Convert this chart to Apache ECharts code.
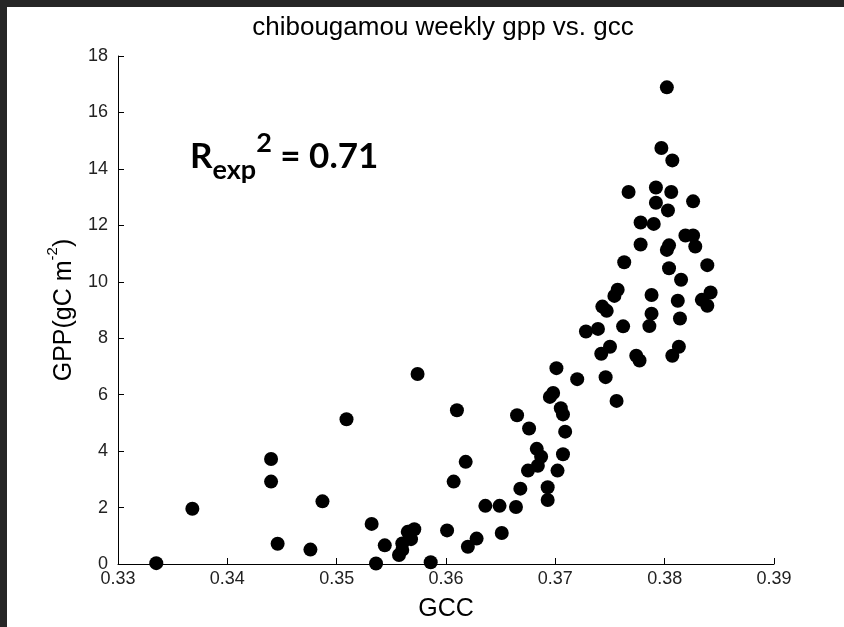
<!DOCTYPE html>
<html>
<head>
<meta charset="utf-8">
<script src="https://cdn.jsdelivr.net/npm/echarts@6/dist/echarts.min.js"></script>
<style>
html,body{margin:0;padding:0;background:#fff;}
#chart{width:844px;height:627px;}
</style>
</head>
<body>
<div id="chart"></div>
<script>
var titleText = 'chibougamou weekly gpp vs. gcc';
var xName = 'GCC';
var xTicks = [0.33, 0.34, 0.35, 0.36, 0.37, 0.38, 0.39];
var yTicks = [0, 2, 4, 6, 8, 10, 12, 14, 16, 18];
var gcc = [
0.3335,0.3368,0.3440,0.3440,0.3446,0.3476,0.3487,0.3509,0.3532,0.3536,
0.3544,0.3557,0.3560,0.3560,0.3565,0.3568,0.3571,0.3574,0.3586,0.3601,
0.3607,0.3610,0.3618,0.3620,0.3628,0.3636,0.3649,0.3651,0.3664,0.3665,
0.3668,0.3675,0.3676,0.3683,0.3684,0.3687,0.3693,0.3693,0.3695,0.3698,
0.3701,0.3702,0.3705,0.3707,0.3707,0.3709,0.3720,0.3728,0.3739,0.3742,
0.3743,0.3746,0.3747,0.3750,0.3754,0.3756,0.3757,0.3762,0.3763,0.3767,
0.3774,0.3777,0.3778,0.3778,0.3786,0.3788,0.3788,0.3790,0.3792,0.3792,
0.3797,0.3802,0.3802,0.3803,0.3804,0.3804,0.3806,0.3807,0.3807,0.3812,
0.3813,0.3814,0.3815,0.3819,0.3826,0.3826,0.3828,0.3834,0.3839,0.3839,
0.3842
];
var gpp = [
0.03,1.96,3.72,2.92,0.72,0.51,2.22,5.13,1.42,0.02,
0.66,0.32,0.50,0.73,1.14,0.88,1.23,6.73,0.06,1.19,
2.92,5.45,3.62,0.61,0.90,2.06,2.06,1.10,2.02,5.27,
2.67,3.31,4.80,4.08,3.48,3.80,2.72,2.27,5.92,6.06,
6.94,3.31,5.52,5.30,3.89,4.69,6.55,8.24,8.33,7.45,
9.12,6.62,8.97,7.70,9.50,5.78,9.72,8.42,10.69,13.18,
7.38,7.21,12.10,11.32,8.43,8.87,9.53,12.05,13.34,12.80,
14.74,16.89,11.13,12.53,11.29,10.48,13.18,14.30,7.38,9.33,
7.70,8.70,10.07,11.64,11.64,12.85,11.25,9.36,10.59,9.15,
9.62
];
var data = gcc.map(function(g, i){ return [g, gpp[i]]; });

var chart = echarts.init(document.getElementById('chart'), null, {renderer:'canvas'});
var lab = {fontFamily:'Liberation Sans', fontSize:18, color:'#222'};
chart.setOption({
  backgroundColor:'#ffffff',
  animation:false,
  grid:{left:118, right:70, top:56, bottom:63, containLabel:false},
  xAxis:{
    type:'value', min:0.33, max:0.39, interval:0.01,
    axisLine:{show:true, lineStyle:{color:'#000', width:1}},
    axisTick:{show:true, inside:true, length:6, lineStyle:{color:'#000'}},
    axisLabel:Object.assign({margin:6, formatter:function(v){return v.toFixed(2);}}, lab),
    splitLine:{show:false},
    name:xName, nameLocation:'middle', nameGap:33,
    nameTextStyle:{fontFamily:'Liberation Sans', fontSize:25, color:'#000'}
  },
  yAxis:{
    type:'value', min:0, max:18, interval:2,
    axisLine:{show:true, lineStyle:{color:'#000', width:1}},
    axisTick:{show:true, inside:true, length:6, lineStyle:{color:'#000'}},
    axisLabel:Object.assign({margin:10}, lab),
    splitLine:{show:false},
    name:'{a|GPP(gC m}{s|-2}{a|)}', nameLocation:'middle', nameGap:34, nameRotate:90,
    nameTextStyle:{
      rich:{
        a:{fontFamily:'Liberation Sans', fontSize:25, color:'#000', lineHeight:32, verticalAlign:'bottom'},
        s:{fontFamily:'Liberation Sans', fontSize:15, color:'#000', lineHeight:32, verticalAlign:'top'}
      }
    }
  },
  graphic:[
    {type:'rect', shape:{x:0,y:0,width:844,height:7}, style:{fill:'#262626'}, z:100},
    {type:'rect', shape:{x:0,y:0,width:7,height:627}, style:{fill:'#262626'}, z:100},
    {type:'text', x:443, y:28, style:{text:titleText, fontFamily:'Liberation Sans', fontSize:26, fill:'#000', align:'center', verticalAlign:'middle'}},
    {type:'text', x:190, y:130, style:{
      text:'{r|R}{sub|exp}{sup|2}{r| = 0.71}',
      rich:{
        r:{fontFamily:'Lato', fontWeight:'bold', fontSize:35, fill:'#000', lineHeight:54, verticalAlign:'middle'},
        sub:{fontFamily:'Lato', fontWeight:'bold', fontSize:27, fill:'#000', lineHeight:54, verticalAlign:'bottom'},
        sup:{fontFamily:'Lato', fontWeight:'bold', fontSize:27, fill:'#000', lineHeight:54, verticalAlign:'top'}
      }
    }}
  ],
  series:[{
    type:'scatter', data:data, symbol:'circle', symbolSize:14,
    itemStyle:{color:'#000', opacity:1}
  }]
});
</script>
</body>
</html>
